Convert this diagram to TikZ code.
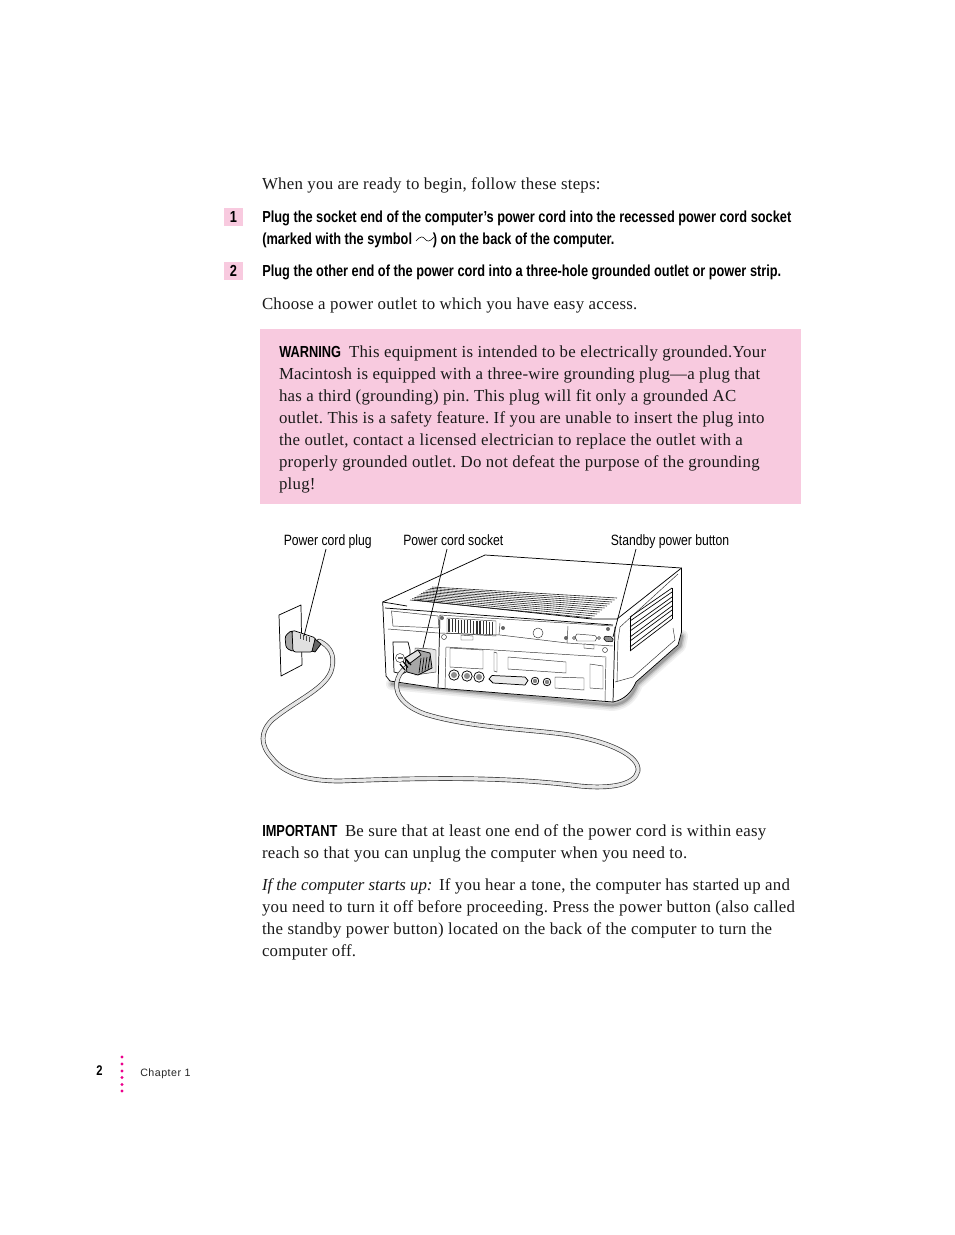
\documentclass[tikz,border=0pt]{standalone}
\usepackage{fontspec}
\setmainfont{Liberation Serif}[LetterSpace=1.5]
\newfontfamily\itf{Liberation Serif Italic}[LetterSpace=-0.2]
\newfontfamily\hvb[FakeStretch=0.80]{Liberation Sans Bold}
\newfontfamily\hvr[FakeStretch=0.815]{Liberation Sans}
\newfontfamily\hvw[LetterSpace=4.5]{Liberation Sans}
\definecolor{pinkbox}{HTML}{F8CADF}
\definecolor{dotm}{HTML}{EC008C}
\definecolor{tx}{HTML}{1A1A1A}
\frenchspacing
\tikzset{
 body/.style={anchor=base west,inner sep=0pt,outer sep=0pt,text=tx,font=\frenchspacing\fontsize{12.63}{16}\selectfont},
 ital/.style={body,font=\frenchspacing\itf\fontsize{12.63}{16}\selectfont},
 stepl/.style={anchor=base west,inner sep=0pt,text=black,font=\hvb\fontsize{11.98}{14}\selectfont},
 keyw/.style={anchor=base west,inner sep=0pt,text=black,font=\hvb\fontsize{12}{14}\selectfont},
 lab/.style={anchor=base west,inner sep=0pt,text=black,font=\hvr\fontsize{11.2}{14}\selectfont},
 numbox/.style={fill=pinkbox,minimum width=14.25pt,minimum height=13.5pt,inner sep=0pt,text=black,font=\hvb\fontsize{12}{14}\selectfont},
 leader/.style={draw=black,line width=0.55pt},
 ol/.style={draw=black,line width=0.55pt,line join=round},
 thinl/.style={draw=black!80,line width=0.35pt},
 dotty/.style={circle,fill=dotm,minimum size=2.4pt,inner sep=0pt},
 cordo/.style={draw=black!80,line width=3.5pt,line cap=round,line join=round},
 cordi/.style={draw=black!10,line width=2.5pt,line cap=round,line join=round},
}
\begin{document}
\begin{tikzpicture}[x=0.75pt,y=-0.75pt]
\useasboundingbox[fill=white] (0,0) rectangle (954,1235);
% text
\node[body] (t1) at (262,189) {When you are ready to begin, follow these steps:};
\node[numbox] (n1) at (233.5,217) {1};
\node[stepl] (s1a) at (262,222) {Plug the socket end of the computer’s power cord into the recessed power cord socket};
\node[stepl] (s1b) at (262,244) {(marked with the symbol};
\draw[line width=0.45pt] (416,241) .. controls (420,236) and (423,236) .. (425,239) .. controls (427,242) and (430,242) .. (434,237);
\node[stepl] (s1c) at (432.5,244) {) on the back of the computer.};
\node[numbox] (n2) at (233.5,271) {2};
\node[stepl] (s2) at (262,276) {Plug the other end of the power cord into a three-hole grounded outlet or power strip.};
\node[body] (t2) at (262,309) {Choose a power outlet to which you have easy access.};
\fill[pinkbox] (260,329) rectangle (801,504);
\node[keyw] (w0) at (279,357) {WARNING};
\node[body] (w1) at (349,357) {This equipment is intended to be electrically grounded.Your};
\node[body] (w2) at (279,379) {Macintosh is equipped with a three-wire grounding plug—a plug that};
\node[body] (w3) at (279,401) {has a third (grounding) pin. This plug will fit only a grounded AC};
\node[body] (w4) at (279,423) {outlet. This is a safety feature. If you are unable to insert the plug into};
\node[body] (w5) at (279,445) {the outlet, contact a licensed electrician to replace the outlet with a};
\node[body] (w6) at (279,467) {properly grounded outlet. Do not defeat the purpose of the grounding};
\node[body] (w7) at (279,489) {plug!};
\node[lab] (l1) at (283.5,545) {Power cord plug};
\node[lab] (l2) at (403,545) {Power cord socket};
\node[lab] (l3) at (610.5,545) {Standby power button};
\node[keyw] (i0) at (262,836) {IMPORTANT};
\node[body] (i1) at (345,836) {Be sure that at least one end of the power cord is within easy};
\node[body] (i2) at (262,858) {reach so that you can unplug the computer when you need to.};
\node[ital] (f0) at (262,890) {If the computer starts up:};
\node[body] (f1) at (439,890) {If you hear a tone, the computer has started up and};
\node[body] (f2) at (262,912) {you need to turn it off before proceeding. Press the power button (also called};
\node[body] (f3) at (262,934) {the standby power button) located on the back of the computer to turn the};
\node[body] (f4) at (262,956) {computer off.};
\node[anchor=base west,inner sep=0pt,font=\hvb\fontsize{10.5}{12}\selectfont] (pg) at (96,1075) {2};
\node[anchor=base west,inner sep=0pt,text=black!85,font=\hvw\fontsize{8}{10}\selectfont] (ch) at (140,1076) {Chapter 1};
\foreach \i/\yy in {1/1057,2/1064,3/1071,4/1077.5,5/1084.5,6/1091}{\node[dotty] (d\i) at (122,\yy) {};}
% shadow
\def\shadowpath{(392,684) -- (612,705) .. controls (628,704) and (634,692) .. (637,684) -- (680,646) -- (682,636)}
\draw[black!6,line width=9pt,line cap=round,line join=round] \shadowpath;
\draw[black!13,line width=6.5pt,line cap=round,line join=round] \shadowpath;
\draw[black!24,line width=4pt,line cap=round,line join=round] \shadowpath;
\draw[black!38,line width=2pt,line cap=round,line join=round] \shadowpath;
% outlet
\filldraw[fill=white,ol] (279,615) -- (301,605) -- (302,665) -- (281,676) -- cycle;
% computer body
\filldraw[fill=white,ol] (382.7,602) -- (485,555) -- (681.5,568) -- (681.5,632) -- (678,645) -- (636,682) .. controls (632,692) and (624,700) .. (613,702) -- (437,688) -- (390,681) -- (386,676) -- cycle;
\draw[ol] (382.7,602) -- (407,606);
\draw[ol] (414,600) -- (592,619) -- (617,619);
\draw[ol] (617,619) -- (681.5,568);
\draw[thinl] (620,627) -- (678,574);
\draw[ol] (385,608) -- (613,625);
\draw[ol] (615,627) -- (613,702);
\draw[thinl] (620,627) -- (618,640) -- (617,682);
% vents on top
\foreach \k in {0,...,10}{
 \pgfmathsetmacro{\a}{\k/10}
 \draw[line width=0.45pt,black!85] ({432-22*\a},{587+\a*13}) -- ({617-25*\a},{598+\a*20});
}
% side vents
\foreach \k in {0,1,2,3}{
 \draw[line width=0.5pt] (630,{617+\k*10}) -- (672,{588+\k*9});
 \draw[line width=0.5pt] (630,{621+\k*10}) -- (672,{592+\k*9});
}
\draw[line width=0.5pt] (630,617) -- (630,651);
\draw[line width=0.5pt] (672,588) -- (672,619);
% lower side edge
\draw[thinl] (615,682) -- (633,677) -- (675,640) -- (673,628);
% back panel
\draw[thinl] (391.5,611) -- (438,616) -- (439,628) -- (393,626) -- cycle;
\draw[ol] (440,615) -- (438,688);
\draw[thinl] (388,629) -- (438,633) -- (500,635);
\draw[thinl] (500,623) -- (499,635);
\draw[thinl] (568,626) -- (567,643);
\draw[thinl] (500,635) -- (567,643) -- (613,646);
\draw[thinl] (440,615) -- (613,626);
% fan grid
\draw[thinl] (447,618) -- (496,621) -- (496,636) -- (447,633) -- cycle;
\foreach \k in {0,...,14}{\draw[line width=0.9pt,black!80] ({449+\k*3.1},{619+\k*0.2}) -- ({449+\k*3.1},{632+\k*0.2});}
% port details
\draw[thinl] (538,633) circle (5);
\filldraw[fill=white,thinl] (461,635) -- (473,636) -- (473,640) -- (461,640) -- cycle;
\fill[black!60] (442,618) circle (2);
\fill[black!60] (503,628) circle (2);
\fill[black!60] (566,638) circle (2);
\fill[black!60] (608,629) circle (2);
\filldraw[fill=white,thinl] (577,634) -- (595,635.5) -- (597,638) -- (595,641) -- (577,641) -- (575,637) -- cycle;
\draw[thinl] (574,638) circle (1.5);
\draw[thinl] (599,638) circle (1.5);
\filldraw[fill=white,thinl] (584,644) -- (594,645) -- (594,649) -- (584,648) -- cycle;
\draw[thinl] (444,637) circle (2.5);
\draw[thinl] (605,650) circle (2.5);
\filldraw[fill=black!45,draw=black,line width=0.4pt,rounded corners=1.5pt] (604,636) -- (613,637) -- (613,642) -- (604,641) -- cycle;
% lower panel
\draw[thinl] (446,647) -- (606,657);
\draw[thinl] (446,647) -- (445,688);
\draw[thinl] (606,657) -- (605,701);
\draw[thinl] (450,648) -- (483,650) -- (483,669) -- (450,667) -- cycle;
\draw[thinl] (494,652) -- (497,653) -- (497,672) -- (494,671) -- cycle;
\draw[thinl] (508,657) -- (566,662) -- (566,673) -- (508,669) -- cycle;
\draw[thinl] (555,677) -- (584,678) -- (584,690) -- (555,688) -- cycle;
\draw[thinl] (590,664) -- (603,666) -- (603,689) -- (590,688) -- cycle;
\foreach \cx/\cy in {454/675,467/676,479/677}{
 \filldraw[fill=white,ol] (\cx,\cy) circle (5.2);
 \fill[black!45] (\cx,\cy) circle (3);
}
\foreach \cx/\cy in {535/681,547/682}{
 \filldraw[fill=white,ol] (\cx,\cy) circle (3.8);
 \fill[black!50] (\cx,\cy) circle (2.2);
}
\filldraw[fill=black!8,ol] (492,675.5) -- (525,677) -- (528,680.5) -- (525,685) -- (493,683) -- (489,679) -- cycle;
% left recess
\filldraw[fill=white,ol] (393,642) -- (408,642) -- (410,650) -- (410,670) -- (402,674) -- (394,672) -- cycle;
\draw[thinl] (400,658) circle (4.5);
\fill[black!60] (397.5,657) rectangle (402.5,659);
% socket plate
\filldraw[fill=black!10,thinl] (415,648) -- (432,649) -- (436,650) -- (436,672) -- (415,675) -- cycle;
% cords
\def\cordpath{(319,641) .. controls (330,646) and (335,655) .. (332,668) .. controls (328,688) and (296,700) .. (272,720) .. controls (260,732) and (260,745) .. (272,758) .. controls (285,775) and (310,781) .. (340,781) .. controls (420,778) and (500,776) .. (580,786) .. controls (610,789) and (635,785) .. (638,771) .. controls (640,756) and (610,742) .. (570,735) .. controls (530,729) and (470,728) .. (425,714) .. controls (400,705) and (393,690) .. (398,678) .. controls (400,672) and (405,668) .. (411,664)}
\draw[cordo] \cordpath;
\draw[cordi] \cordpath;
% wall plug
\filldraw[fill=black!35,ol,rounded corners=2pt] (285,636) -- (292,630) -- (294,652) -- (286,648) -- cycle;
\filldraw[fill=black!12,ol,rounded corners=2pt] (292,630) -- (316,638) -- (313,652) -- (293,652) -- cycle;
\filldraw[fill=black!60,ol] (315,639) -- (321,644) -- (315,652) -- (312,651) -- cycle;
\foreach \k in {0,1,2,3}{\draw[line width=0.5pt,black!70] ({300+\k*3},{634+\k*1}) -- ({300+\k*3},{639+\k*1});}
% socket plug
\filldraw[fill=black!35,ol] (405,658) -- (418,650) -- (430,653) -- (432,668) -- (418,675) -- (407,672) -- cycle;
\filldraw[fill=black!12,ol] (405,658) -- (418,650) -- (421,655) -- (409,664) -- cycle;
\foreach \k in {0,1,2,3}{\draw[line width=0.5pt] ({419+\k*3},{673-\k*1.2}) -- ({421+\k*3},{658-\k*0.5});}
\foreach \k in {0,1,2}{\draw[line width=0.9pt] ({400+\k*3},{664-\k*2.5}) -- ({405+\k*3},{670-\k*2.5});}
% leaders
\coordinate (b1) at (326,549);
\coordinate (b2) at (447,549);
\coordinate (b3) at (636,549);
\coordinate (e1) at (304,636);
\coordinate (e2) at (423,648);
\coordinate (e3) at (613,637);
\draw[leader] (b1) -- (e1);
\draw[leader] (b2) -- (e2);
\draw[leader] (b3) -- (e3);
\end{tikzpicture}
\end{document}
